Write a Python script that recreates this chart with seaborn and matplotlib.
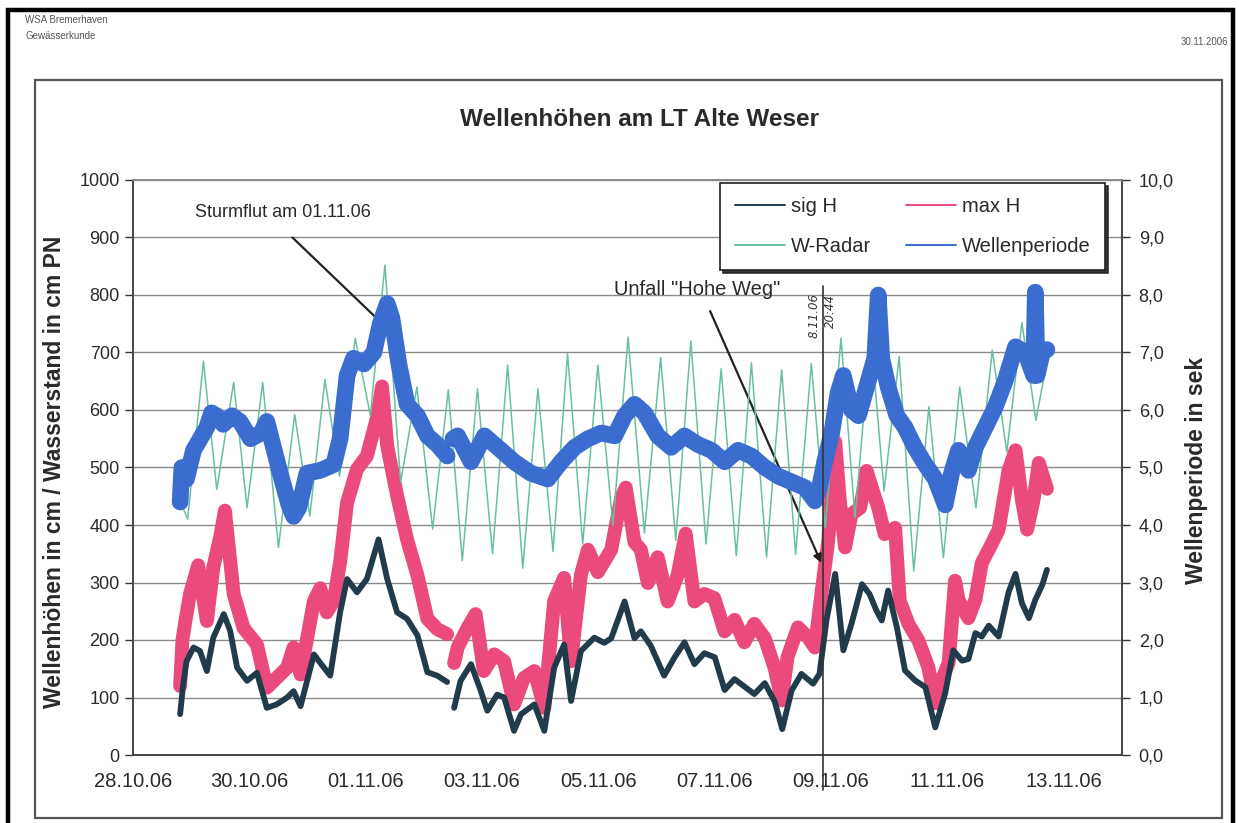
import numpy as np
import pandas as pd
import matplotlib
matplotlib.use("Agg")
import matplotlib.pyplot as plt
from matplotlib.lines import Line2D
from matplotlib.patches import Rectangle
import matplotlib.dates as mdates
import seaborn as sns

START = "2006-10-28"
NAN = float("nan")

# ---------------- data (day offsets from 28.10.2006 00:00) ----------------
sig_days = [0.81, 0.86, 0.92, 1.04, 1.15, 1.27, 1.38, 1.56, 1.67, 1.79, 1.96, 2.13, 2.30, 2.47, 2.65,
            2.76, 2.88, 3.11, 3.22, 3.39, 3.56, 3.68, 3.85, 4.02, 4.22, 4.37, 4.54, 4.71, 4.89, 5.06,
            5.23, 5.40, 5.46, 5.52, 5.63, 5.81, 5.98, 6.09, 6.26, 6.38, 6.55, 6.67, 6.90, 7.07, 7.24,
            7.41, 7.53, 7.70, 7.93, 8.10, 8.22, 8.45, 8.62, 8.73, 8.90, 9.13, 9.31, 9.48, 9.65, 9.82,
            10.00, 10.17, 10.34, 10.51, 10.68, 10.86, 11.03, 11.16, 11.32, 11.49, 11.69, 11.80, 11.92,
            12.07, 12.21, 12.35, 12.53, 12.66, 12.78, 12.87, 12.98, 13.13, 13.27, 13.44, 13.62, 13.79,
            13.96, 14.10, 14.25, 14.36, 14.48, 14.59, 14.71, 14.88, 15.05, 15.17, 15.28, 15.40, 15.51,
            15.63, 15.71]
sig_vals = [71, 120, 163, 187, 181, 146, 204, 245, 216, 152, 129, 143, 82, 88, 100,
            111, 85, 175, 160, 138, 248, 306, 283, 306, 375, 306, 248, 237, 208, 144,
            138, 127, NAN, 82, 129, 158, 111, 77, 105, 100, 42, 71, 88, 42, 152,
            192, 94, 181, 204, 195, 203, 267, 203, 215, 190, 138, 170, 196, 158, 177,
            170, 113, 132, 119, 106, 125, 93, 45, 112, 141, 124, 141, 234,
            315, 182, 228, 297, 280, 251, 234, 286, 222, 147, 130, 118, 48,
            107, 182, 164, 167, 212, 206, 225, 206, 283, 315, 264, 238, 270,
            296, 322]

max_days = [0.81, 0.85, 0.90, 0.98, 1.12, 1.27, 1.38, 1.50, 1.58, 1.73, 1.90, 2.13, 2.30, 2.47, 2.65,
            2.76, 2.88, 3.11, 3.22, 3.33, 3.45, 3.56, 3.68, 3.85, 4.02, 4.20, 4.28, 4.37, 4.54, 4.71,
            4.89, 5.06, 5.23, 5.40, 5.46, 5.52, 5.58, 5.75, 5.89, 6.03, 6.21, 6.38, 6.55, 6.72, 6.90,
            7.07, 7.24, 7.41, 7.53, 7.70, 7.82, 7.99, 8.22, 8.39, 8.47, 8.62, 8.73, 8.85, 9.02, 9.19,
            9.36, 9.50, 9.65, 9.82, 9.99, 10.17, 10.34, 10.51, 10.68, 10.86, 11.03, 11.15, 11.25, 11.43,
            11.60, 11.72, 11.84, 11.95, 12.07, 12.15, 12.24, 12.35, 12.50, 12.61, 12.70, 12.81, 12.92,
            13.10, 13.18, 13.33, 13.50, 13.67, 13.79, 13.90, 14.02, 14.13, 14.19, 14.36, 14.48, 14.59,
            14.76, 14.88, 15.05, 15.17, 15.28, 15.37, 15.48, 15.57, 15.71]
max_vals = [120, 200, 233, 280, 330, 233, 326, 380, 425, 280, 221, 192, 117, 134, 152,
            187, 140, 268, 290, 248, 268, 335, 439, 497, 520, 589, 641, 537, 451, 375,
            312, 237, 219, 210, NAN, 160, 187, 221, 245, 146, 175, 163, 88, 134, 146,
            82, 268, 308, 163, 314, 357, 318, 357, 447, 465, 370, 357, 299, 344, 267,
            312, 385, 267, 280, 273, 215, 235, 196, 228, 203, 151, 95, 170, 222,
            205, 187, 286, 372, 545, 442, 361, 419, 430, 494, 465, 430, 384,
            395, 268, 228, 199, 153, 90, 130, 160, 303, 270, 238, 270, 334,
            367, 392, 495, 530, 444, 392, 444, 508, 463]

radar_days = [0.81, 0.94, 1.21, 1.44, 1.73, 1.96, 2.23, 2.50, 2.78, 3.04, 3.30, 3.55, 3.82, 4.08, 4.33,
              4.60, 4.88, 5.15, 5.42, 5.66, 5.92, 6.18, 6.44, 6.70, 6.96, 7.22, 7.47, 7.73, 7.99, 8.25,
              8.51, 8.79, 9.07, 9.33, 9.59, 9.85, 10.11, 10.37, 10.63, 10.89, 11.15, 11.39, 11.66, 11.90,
              12.17, 12.41, 12.68, 12.91, 13.17, 13.42, 13.68, 13.93, 14.21, 14.49, 14.77, 15.02, 15.28,
              15.52, 15.72]
radar_vals = [442, 410, 685, 462, 648, 430, 648, 361, 592, 416, 653, 485, 725, 590, 852,
              474, 640, 393, 635, 338, 637, 350, 678, 325, 637, 354, 698, 367, 678, 399,
              727, 386, 691, 373, 720, 367, 672, 347, 682, 344, 670, 349, 681, 395,
              725, 413, 731, 459, 693, 320, 606, 343, 640, 430, 704, 527, 752,
              582, 690]

period_days = [0.81, 0.84, 0.92, 1.04, 1.27, 1.35, 1.44, 1.55, 1.70, 1.84, 2.02, 2.20, 2.30, 2.53, 2.68,
               2.76, 2.85, 2.99, 3.22, 3.45, 3.56, 3.68, 3.79, 3.97, 4.14, 4.25, 4.37, 4.45, 4.57, 4.71,
               4.89, 5.06, 5.23, 5.40, 5.45, 5.50, 5.58, 5.81, 6.04, 6.27, 6.55, 6.84, 7.13, 7.36, 7.59,
               7.82, 8.05, 8.28, 8.45, 8.62, 8.79, 9.02, 9.25, 9.48, 9.71, 9.94, 10.17, 10.40, 10.63,
               10.86, 11.09, 11.32, 11.55, 11.72, 11.80, 11.89, 12.01, 12.12, 12.21, 12.35, 12.47, 12.61,
               12.75, 12.81, 12.87, 12.98, 13.13, 13.27, 13.44, 13.62, 13.79, 13.96, 14.07, 14.19, 14.36,
               14.48, 14.65, 14.82, 14.99, 15.17, 15.34, 15.48, 15.51, 15.54, 15.63, 15.71]
period_vals = [4.4, 5.0, 4.8, 5.3, 5.7, 5.95, 5.9, 5.75, 5.9, 5.8, 5.5, 5.6, 5.8, 4.9, 4.35,
               4.15, 4.3, 4.9, 4.95, 5.05, 5.5, 6.6, 6.9, 6.8, 7.0, 7.5, 7.85, 7.6, 6.8, 6.1,
               5.9, 5.55, 5.4, 5.2, NAN, 5.5, 5.55, 5.1, 5.55, 5.35, 5.1, 4.9, 4.8, 5.1, 5.35,
               5.5, 5.6, 5.55, 5.9, 6.1, 5.95, 5.55, 5.35, 5.55, 5.4, 5.3, 5.1, 5.3, 5.2,
               5.0, 4.85, 4.75, 4.65, 4.42, 4.65, 5.1, 5.6, 6.3, 6.6, 6.0, 5.9, 6.4,
               6.9, 8.0, 6.9, 6.4, 5.9, 5.7, 5.35, 5.05, 4.8, 4.35, 4.9, 5.3, 4.95,
               5.35, 5.7, 6.05, 6.5, 7.1, 7.0, 6.6, 8.05, 6.6, 7.0, 7.05]

left_ticks = [0, 100, 200, 300, 400, 500, 600, 700, 800, 900, 1000]
right_ticks = [0, 1, 2, 3, 4, 5, 6, 7, 8, 9, 10]
x_tick_dates = ["2006-10-28", "2006-10-30", "2006-11-01", "2006-11-03", "2006-11-05",
                "2006-11-07", "2006-11-09", "2006-11-11", "2006-11-13"]

colors = {"sig H": "#223b4b", "max H": "#eb4a7d", "W-Radar": "#68c09f", "Wellenperiode": "#3b6dd0"}


def to_time(day):
    return pd.Timestamp(START) + pd.to_timedelta(day, unit="D")


def make_df(days, vals):
    df = pd.DataFrame({"day": days, "v": vals})
    df["seg"] = df["v"].isna().cumsum()
    df = df.dropna().copy()
    df["t"] = to_time(df["day"])
    return df


sns.set_style("white")
plt.rcParams["font.family"] = ["Liberation Sans", "DejaVu Sans"]
TXT = "#2a2a2a"

fig = plt.figure(figsize=(12.39, 8.23), dpi=100)
W, H = 1239, 823
ax = fig.add_axes([133 / W, 1 - 755 / H, (1122 - 133) / W, (755 - 180) / H])
ax2 = ax.twinx()

line_kw = dict(x="t", y="v", units="seg", estimator=None, sort=False, legend=False)
sns.lineplot(data=make_df(max_days, max_vals), color=colors["max H"], lw=10, ax=ax, zorder=3,
             solid_joinstyle="round", **line_kw)
sns.lineplot(data=make_df(sig_days, sig_vals), color=colors["sig H"], lw=4.2, ax=ax, zorder=4,
             solid_joinstyle="round", **line_kw)
sns.lineplot(data=make_df(radar_days, radar_vals), color=colors["W-Radar"], lw=1.1, ax=ax, zorder=5,
             **line_kw)
sns.lineplot(data=make_df(period_days, period_vals), color=colors["Wellenperiode"], lw=12, ax=ax2,
             zorder=3, solid_joinstyle="round", **line_kw)

ax.set_zorder(1)
ax2.set_zorder(2)
ax2.patch.set_visible(False)

ax.set_xlim(pd.Timestamp("2006-10-28"), pd.Timestamp("2006-11-14"))
ax.set_ylim(0, 1000)
ax2.set_ylim(0, 10)

ax.set_yticks(left_ticks)
ax.set_yticklabels([str(v) for v in left_ticks])
ax2.set_yticks(right_ticks)
ax2.set_yticklabels([f"{v:.1f}".replace(".", ",") for v in right_ticks])
ax.set_xticks([pd.Timestamp(s) for s in x_tick_dates])
ax.xaxis.set_major_formatter(mdates.DateFormatter("%d.%m.%y"))

for a in (ax, ax2):
    a.set_xlabel("")
    a.set_ylabel("")
ax.tick_params(axis="y", labelsize=13, colors="#333", labelcolor=TXT, direction="out", length=6, width=1)
ax.tick_params(axis="x", labelsize=14.5, colors="#333", labelcolor=TXT, direction="out", length=5,
               width=1, pad=7)
ax2.tick_params(axis="y", labelsize=13, colors="#333", labelcolor=TXT, direction="out", length=6,
                width=1, pad=6)

ax.grid(axis="y", color="#8a8a8a", lw=1.0)
ax.grid(axis="x", visible=False)
for a in (ax, ax2):
    for s in a.spines.values():
        s.set_color("#444")
        s.set_linewidth(1.2)
    a.spines["top"].set_color("#8a8a8a")

# labels
fig.text(55 / W, 1 - 472 / H, "Wellenhöhen in cm / Wasserstand in cm PN", rotation=90, ha="center",
         va="center", fontsize=16.5, color=TXT, fontweight="bold")
fig.text(1196 / W, 1 - 470 / H, "Wellenperiode in sek", rotation=90, ha="center", va="center",
         fontsize=16.5, color=TXT, fontweight="bold")
fig.text(639 / W, 1 - 120 / H, "Wellenhöhen am LT Alte Weser", ha="center", va="center",
         fontsize=17.5, fontweight="bold", color=TXT)

# header
fig.text(25 / W, 1 - 20 / H, "WSA Bremerhaven", fontsize=7, color="#555", va="center")
fig.text(25 / W, 1 - 36 / H, "Gewässerkunde", fontsize=7, color="#555", va="center")
fig.text(1228 / W, 1 - 42 / H, "30.11.2006", fontsize=7, color="#555", va="center", ha="right")

# frames
fig.add_artist(Rectangle((8 / W, -0.02), (1233 - 8) / W, 1.02 - 10 / H, transform=fig.transFigure,
                         fill=False, lw=3.2, ec="black"))
fig.add_artist(Rectangle((35 / W, 1 - 818 / H), (1222 - 35) / W, (818 - 80) / H, transform=fig.transFigure,
                         fill=False, lw=1.6, ec="#555"))

# annotations
ax.text(to_time(1.07), 944, "Sturmflut am 01.11.06", fontsize=13, color=TXT, va="center", ha="left")
ax.annotate("", xy=(to_time(4.39), 740), xytext=(to_time(2.74), 900),
            arrowprops=dict(arrowstyle="-|>", color="#222", lw=1.6, mutation_scale=12, shrinkA=0, shrinkB=0))
ax.text(to_time(8.27), 809, "Unfall \"Hohe Weg\"", fontsize=14.5, color=TXT, va="center", ha="left")
ax.annotate("", xy=(to_time(11.83), 334), xytext=(to_time(9.92), 772),
            arrowprops=dict(arrowstyle="-|>", color="#222", lw=1.6, mutation_scale=12, shrinkA=0, shrinkB=0))

event = to_time(11.864)
ax2.axvline(event, ymin=-0.06, ymax=0.815, color="#333", lw=1.2, clip_on=False, zorder=6)
ax2.text(to_time(11.70), 7.65, "8.11.06", rotation=90, fontsize=8.5, style="italic", color="#333",
         ha="center", va="center", family="DejaVu Sans")
ax2.text(to_time(11.98), 7.72, "20:44", rotation=90, fontsize=8.5, style="italic", color="#333",
         ha="center", va="center", family="DejaVu Sans")

# legend
order = ["sig H", "W-Radar", "max H", "Wellenperiode"]
handles = [Line2D([0], [0], color=colors[k], lw=1.4) for k in order]
leg = ax2.legend(handles, order, ncol=2, loc="lower left", mode="expand",
                 bbox_to_anchor=(0.594, 0.843, 0.389, 0.154), borderaxespad=0, fontsize=14.5,
                 frameon=True, fancybox=False, shadow={"color": "#222", "alpha": 0.9}, edgecolor="#222",
                 handlelength=2.5, handletextpad=0.3, labelspacing=1.05, borderpad=0.7,
                 columnspacing=1.0)
leg.get_frame().set_linewidth(1.2)
for t in leg.get_texts():
    t.set_color(TXT)

fig.savefig("out.png", dpi=100, facecolor="white")
